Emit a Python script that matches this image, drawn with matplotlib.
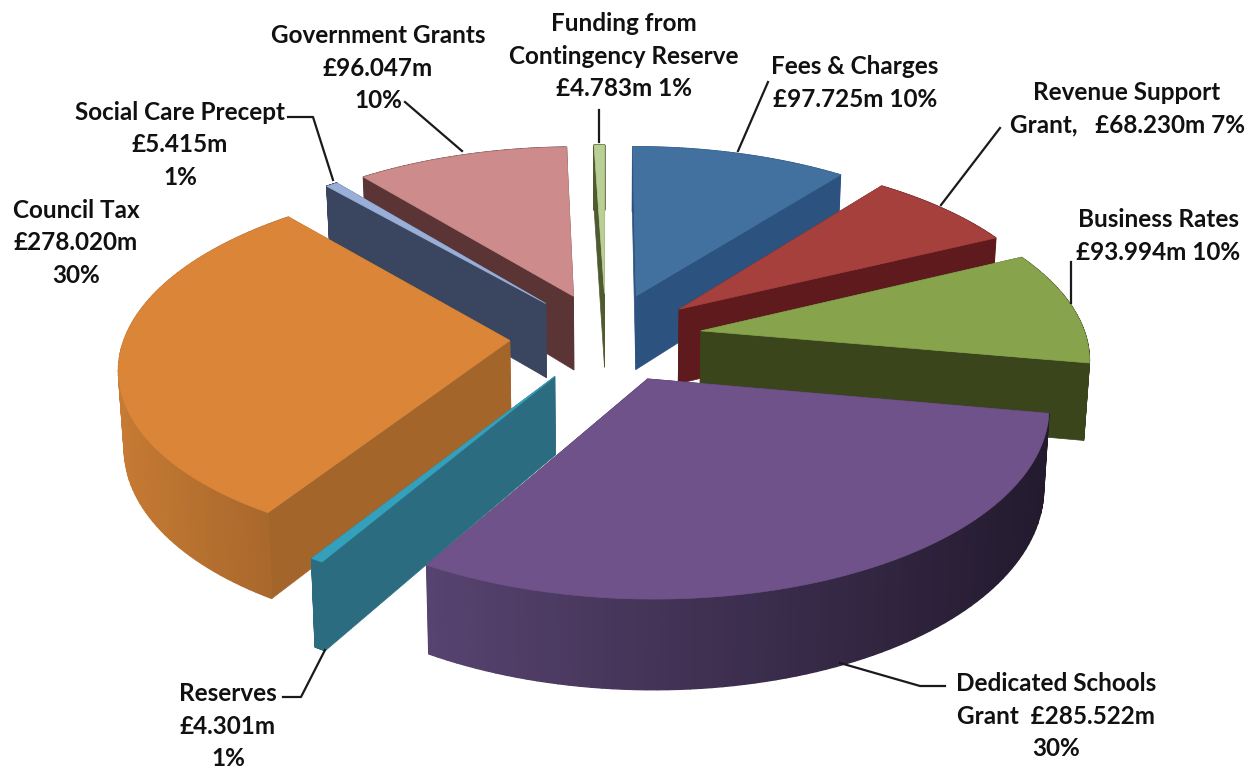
import numpy as np
import matplotlib
matplotlib.use('Agg')
import matplotlib.pyplot as plt
from matplotlib.patches import Polygon

names = ['Fees & Charges', 'Revenue Support Grant', 'Business Rates', 'Dedicated Schools Grant', 'Reserves',
         'Council Tax', 'Social Care Precept', 'Government Grants', 'Funding from Contingency Reserve']
values = [97.725, 68.230, 93.994, 285.522, 4.301, 278.020, 5.415, 96.047, 4.783]

top_colors = ['#42709f', '#a5403d', '#87a44d', '#6f528a', '#35a0bb', '#da8538', '#9aafd8', '#cd8c8b', '#b9cf95']
# side colours, left end of the outer wall then right end
side_colors = [('#2c527f', '#2c527f'), ('#5e1a1c', '#5e1a1c'), ('#3a451c', '#3a451c'), ('#574370', '#231a2e'),
               ('#2c6c80', '#2c6c80'), ('#c67a33', '#a4652b'), ('#3a4660', '#3a4660'), ('#5b3536', '#5b3536'),
               ('#4f5a30', '#4f5a30')]

# back to front
draw_order = [8, 0, 7, 6, 1, 2, 5, 4, 3]

label_text = ['Funding from\nContingency Reserve\n£4.783m 1%',
              'Government Grants\n£96.047m\n10%',
              'Fees & Charges\n£97.725m 10%',
              'Revenue Support\nGrant,   £68.230m 7%',
              'Business Rates\n£93.994m 10%',
              'Social Care Precept\n£5.415m\n1%',
              'Council Tax\n£278.020m\n30%',
              'Reserves\n£4.301m\n1%',
              'Dedicated Schools\nGrant  £285.522m\n30%']
label_x = [624, 378, 855, 1127, 1158, 180, 76, 228, 1056]
label_y = [56, 68, 83, 109, 236, 145, 243, 726, 716]

leaders = [[(599, 110), (599, 142)],
           [(405, 102), (462, 151)],
           [(768, 82), (738, 151)],
           [(1000, 128), (941, 205)],
           [(1071, 262), (1071, 303)],
           [(288, 117), (313, 117), (333, 180)],
           [(283, 697), (301, 697), (325, 650)],
           [(945, 686), (920, 686), (840, 663)]]

cx, cy = 606, 337
bx, by, persp = 385, 179, 0.132
explode = 0.25
h0 = 76


def project(X, Y, z=0.0):
    # Y points away from the viewer
    den = 1 + persp * Y
    scale = 1 - 0.012 * z
    return cx + scale * bx * X / den, cy - by * Y / den + z * h0 / den


fig = plt.figure(figsize=(12.54, 7.69), dpi=100)
ax = fig.add_axes([0, 0, 1, 1])
ax.set_xlim(0, 1254)
ax.set_ylim(769, 0)
ax.axis('off')

total = sum(values)
ends = np.cumsum(values) / total * 2 * np.pi
starts = np.concatenate([[0], ends[:-1]])

for i in draw_order:
    a0, a1 = starts[i], ends[i]
    mid = (a0 + a1) / 2
    ox, oy = explode * np.sin(mid), explode * np.cos(mid)
    ang = np.linspace(a0, a1, 80)
    X = ox + np.sin(ang)
    Y = oy + np.cos(ang)
    tx, ty = project(X, Y)
    bx_, by_ = project(X, Y, 1.0)
    atx, aty = project(ox, oy)
    abx, aby = project(ox, oy, 1.0)

    c_left, c_right = matplotlib.colors.to_rgb(side_colors[i][0]), matplotlib.colors.to_rgb(side_colors[i][1])
    radial = c_right if i != 5 else '#a4652b'
    if i == 3:
        radial = '#3a2c4e'
    # radial walls
    for k in [0, -1]:
        ax.add_patch(Polygon([(atx, aty), (tx[k], ty[k]), (bx_[k], by_[k]), (abx, aby)],
                             fc=radial, ec=radial, lw=0.5))
    # outer wall in slim strips so the shade can run across it
    xmin, xmax = tx.min(), tx.max()
    for k in range(len(ang) - 1):
        t = ((tx[k] + tx[k + 1]) / 2 - xmin) / max(xmax - xmin, 1)
        col = [c_left[n] + (c_right[n] - c_left[n]) * t for n in range(3)]
        ax.add_patch(Polygon([(tx[k], ty[k]), (tx[k + 1], ty[k + 1]), (bx_[k + 1], by_[k + 1]), (bx_[k], by_[k])],
                             fc=col, ec=col, lw=1.0))
    # top face
    ax.add_patch(Polygon(np.column_stack([np.r_[atx, tx], np.r_[aty, ty]]), fc=top_colors[i], ec=top_colors[i], lw=0.5))

for pts in leaders:
    ax.plot([p[0] for p in pts], [p[1] for p in pts], color='#1a1a1a', lw=1.6)

for s, x, y in zip(label_text, label_x, label_y):
    ax.text(x, y, s, ha='center', va='center', family='Lato', fontweight='bold', fontsize=17.5,
            color='#111111', linespacing=1.49)

fig.savefig('out.png', dpi=100)
